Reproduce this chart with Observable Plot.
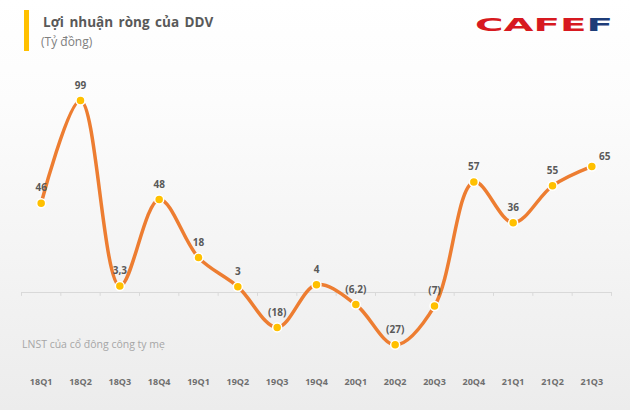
<!DOCTYPE html>
<html>
<head>
<meta charset="utf-8">
<script src="https://cdn.jsdelivr.net/npm/d3@7"></script>
<script src="https://cdn.jsdelivr.net/npm/@observablehq/plot@0.6"></script>
<style>
  html, body { margin: 0; padding: 0; }
  #wrap {
    position: relative; width: 630px; height: 410px; overflow: hidden;
    background: linear-gradient(to bottom, #ffffff 0%, #fcfcfc 25%, #ececec 100%);
    font-family: "Open Sans", sans-serif;
  }
  #chart svg { position: absolute; left: 0; top: 0; background: transparent !important; }
  #overlay { position: absolute; left: 0; top: 0; }
</style>
</head>
<body>
<div id="wrap">
  <div id="chart"></div>
  <svg id="overlay" width="630" height="410" xmlns="http://www.w3.org/2000/svg">
    <rect x="24" y="10" width="5" height="41" fill="#FFC000"></rect>
    <text x="43" y="27" font-family="Open Sans" font-weight="bold" font-size="13.5" fill="#595959" word-spacing="2">Lợi nhuận ròng của DDV</text>
    <text x="41" y="46" font-family="Open Sans" font-size="12" fill="#7f7f7f">(Tỷ đồng)</text>
    <text x="475" y="31" font-family="DejaVu Sans" font-weight="bold" font-size="18" textLength="138" lengthAdjust="spacingAndGlyphs"><tspan fill="#d71920">CAFE</tspan><tspan fill="#1d3c78">F</tspan></text>
    <text x="22" y="348" font-family="Open Sans" font-size="10.5" fill="#a6a6a6">LNST của cổ đông công ty mẹ</text>
  </svg>
</div>
<script>
const quarters = ["18Q1","18Q2","18Q3","18Q4","19Q1","19Q2","19Q3","19Q4","20Q1","20Q2","20Q3","20Q4","21Q1","21Q2","21Q3"];
const profit = [46, 99, 3.3, 48, 18, 3, -18, 4, -6.2, -27, -7, 57, 36, 55, 65];

const data = quarters.map((q, i) => ({q, v: profit[i], i}));
const fmtNum = v => String(v).replace(".", ",");
const fmt = v => v < 0 ? `(${fmtNum(-v)})` : fmtNum(v);

const marginLeft = 21, marginRight = 19, width = 630;
const bw = (width - marginLeft - marginRight) / quarters.length;
const last = quarters[quarters.length - 1];

const chart = Plot.plot({
  width, height: 410,
  marginLeft, marginRight, marginTop: 0, marginBottom: 36,
  style: {background: "transparent", fontFamily: "Open Sans"},
  x: {type: "band", domain: quarters, padding: 0, round: false},
  y: {domain: [0, 99], range: [292, 100], axis: null},
  marks: [
    Plot.ruleY([0], {stroke: "#d9d9d9", strokeWidth: 1}),
    Plot.ruleX(quarters, {x: d => d, dx: -bw / 2, y1: 0, y2: -2, stroke: "#d9d9d9"}),
    Plot.ruleX([last], {x: d => d, dx: bw / 2, y1: 0, y2: -2, stroke: "#d9d9d9"}),
    Plot.line(data, {x: "q", y: "v", curve: "catmull-rom", stroke: "#ED7D31", strokeWidth: 3.5, strokeLinecap: "round"}),
    Plot.dot(data, {x: "q", y: "v", r: 4.5, fill: "#FFC000", stroke: "#ffffff", strokeWidth: 1.5}),
    Plot.text(data.filter(d => d.q !== last), {x: "q", y: "v", text: d => fmt(d.v), dy: -15, fill: "#595959", fontWeight: "bold", fontSize: 10}),
    Plot.text(data.filter(d => d.q === last), {x: "q", y: "v", text: d => fmt(d.v), dy: -10, dx: 13, fill: "#595959", fontWeight: "bold", fontSize: 10}),
    Plot.axisX({tickSize: 0, tickPadding: 4, fontSize: 9, fontWeight: "bold", color: "#6f6f6f", label: null})
  ]
});
document.getElementById("chart").appendChild(chart);
</script>
</body>
</html>
